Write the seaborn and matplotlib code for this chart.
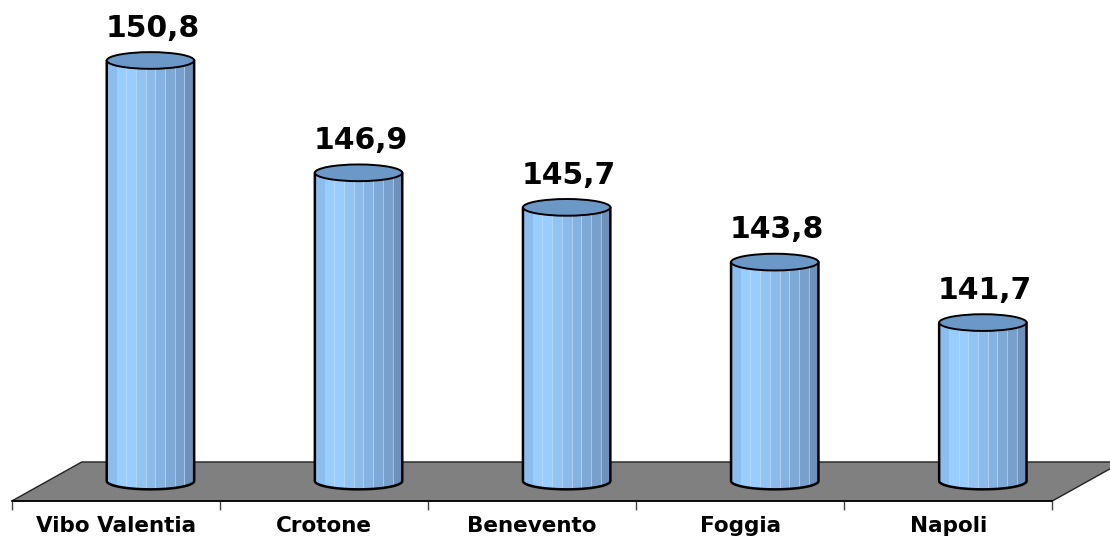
import numpy as np
import pandas as pd
import matplotlib
matplotlib.use("Agg")
import matplotlib.pyplot as plt
from matplotlib.path import Path
from matplotlib.patches import PathPatch, Ellipse, Polygon
from matplotlib.colors import to_rgb
import seaborn as sns

# ---- data ----
categories = ["Vibo Valentia", "Crotone", "Benevento", "Foggia", "Napoli"]
values = [150.8, 146.9, 145.7, 143.8, 141.7]
value_labels = ["150,8", "146,9", "145,7", "143,8", "141,7"]

# ---- style ----
BASE = 136.2          # value at which cylinders stand (floor level)
Y_LIM = (134.29, 152.9)
X_LIM = (-0.723, 4.611)
BAR_W = 0.42
ELL_H = 0.58          # ellipse height in value units
LABEL_SHIFT = 0.166   # category label offset (3D depth) in x units
DEPTH_X, DEPTH_Y = 0.336, 1.354
FLOOR_FRONT = BASE - 0.694
stripes = ["#8dbdee", "#99ccff", "#99ccff", "#93c3f3", "#8cbbea", "#85b2e0",
           "#7ea9d6", "#77a0cc", "#6d91ba"]
top_color = "#6c98c8"
floor_color = "#808080"

sns.set_style("white")
plt.rcParams["font.family"] = ["DejaVu Sans"]

fig = plt.figure(figsize=(11.1, 5.36), dpi=100)
ax = fig.add_axes([0, 0, 1, 1])

df = pd.DataFrame({"cat": categories, "val": values})
sns.barplot(data=df, x="cat", y="val", width=BAR_W, color=stripes[1],
            linewidth=0, ax=ax)

ax.set_xlim(*X_LIM)
ax.set_ylim(*Y_LIM)

# floor parallelogram
n = len(categories)
fl = -0.5 - LABEL_SHIFT
fr = n - 0.5 - LABEL_SHIFT
floor = Polygon([(fl, FLOOR_FRONT), (fr, FLOOR_FRONT),
                 (fr + DEPTH_X, FLOOR_FRONT + DEPTH_Y),
                 (fl + DEPTH_X, FLOOR_FRONT + DEPTH_Y)],
                closed=True, facecolor=floor_color, edgecolor="#222222",
                linewidth=1.0, zorder=0.5)
ax.add_patch(floor)

# stripe image
img = np.array([[to_rgb(c) for c in stripes]])

for p, v, lab in zip(list(ax.patches), values, value_labels):
    x0 = p.get_x()
    w = p.get_width()
    x1 = x0 + w
    xc = x0 + w / 2
    p.set_visible(False)
    # cylinder body path: left side, lower half-ellipse, right side
    theta = np.linspace(np.pi, 2 * np.pi, 60)
    arc = np.column_stack([xc + (w / 2) * np.cos(theta),
                           BASE + (ELL_H / 2) * np.sin(theta)])
    verts = np.vstack([[x0, v], arc, [x1, v], [x0, v]])
    codes = [Path.MOVETO] + [Path.LINETO] * (len(verts) - 2) + [Path.CLOSEPOLY]
    body = PathPatch(Path(verts, codes), facecolor="none", edgecolor="none",
                     zorder=2)
    ax.add_patch(body)
    im = ax.imshow(img, extent=[x0, x1, BASE - ELL_H, v], aspect="auto",
                   interpolation="nearest", zorder=2)
    im.set_clip_path(body)
    # thin light separators between stripes
    ns = len(stripes)
    for k in range(2, ns):
        xs = x0 + w * k / ns
        ax.plot([xs, xs], [BASE - ELL_H / 2 * np.sqrt(max(0, 1 - ((xs - xc) / (w / 2)) ** 2)), v],
                color="#c6e0fb", lw=0.6, alpha=0.7, zorder=2.1)
    # outline: sides + bottom arc
    outline = np.vstack([[x0, v], arc, [x1, v]])
    ax.plot(outline[:, 0], outline[:, 1], color="black", lw=1.8, zorder=3,
            solid_joinstyle="round")
    # top ellipse
    ax.add_patch(Ellipse((xc, v), w, ELL_H, facecolor=top_color,
                         edgecolor="black", linewidth=1.4, zorder=4))
    # value label
    ax.annotate(lab, (xc, v), xytext=(1.5, 17), textcoords="offset points",
                ha="center", va="baseline", fontsize=21.5,
                fontweight="bold", color="black", zorder=5)

# axis: spine on floor front edge, ticks at boundaries
for s in ["top", "right", "left"]:
    ax.spines[s].set_visible(False)
ax.spines["bottom"].set_position(("data", FLOOR_FRONT))
ax.spines["bottom"].set_bounds(fl, fr)
ax.spines["bottom"].set_color("black")
ax.spines["bottom"].set_linewidth(1.2)
ax.set_yticks([])
ax.set_ylabel("")
ax.set_xlabel("")
ax.set_xticks([i - LABEL_SHIFT for i in range(n)])
ax.set_xticklabels(categories, fontsize=15.5, fontweight="bold", color="black")
ax.set_xticks([i - 0.5 - LABEL_SHIFT for i in range(n + 1)], minor=True)
ax.tick_params(axis="x", which="major", length=0, pad=10.5, labelcolor="black")
ax.tick_params(axis="x", which="minor", length=6.5, width=1, color="#444444",
               direction="out", bottom=True)
ax.set_facecolor("white")

fig.savefig("out.png", dpi=100, facecolor="white")
